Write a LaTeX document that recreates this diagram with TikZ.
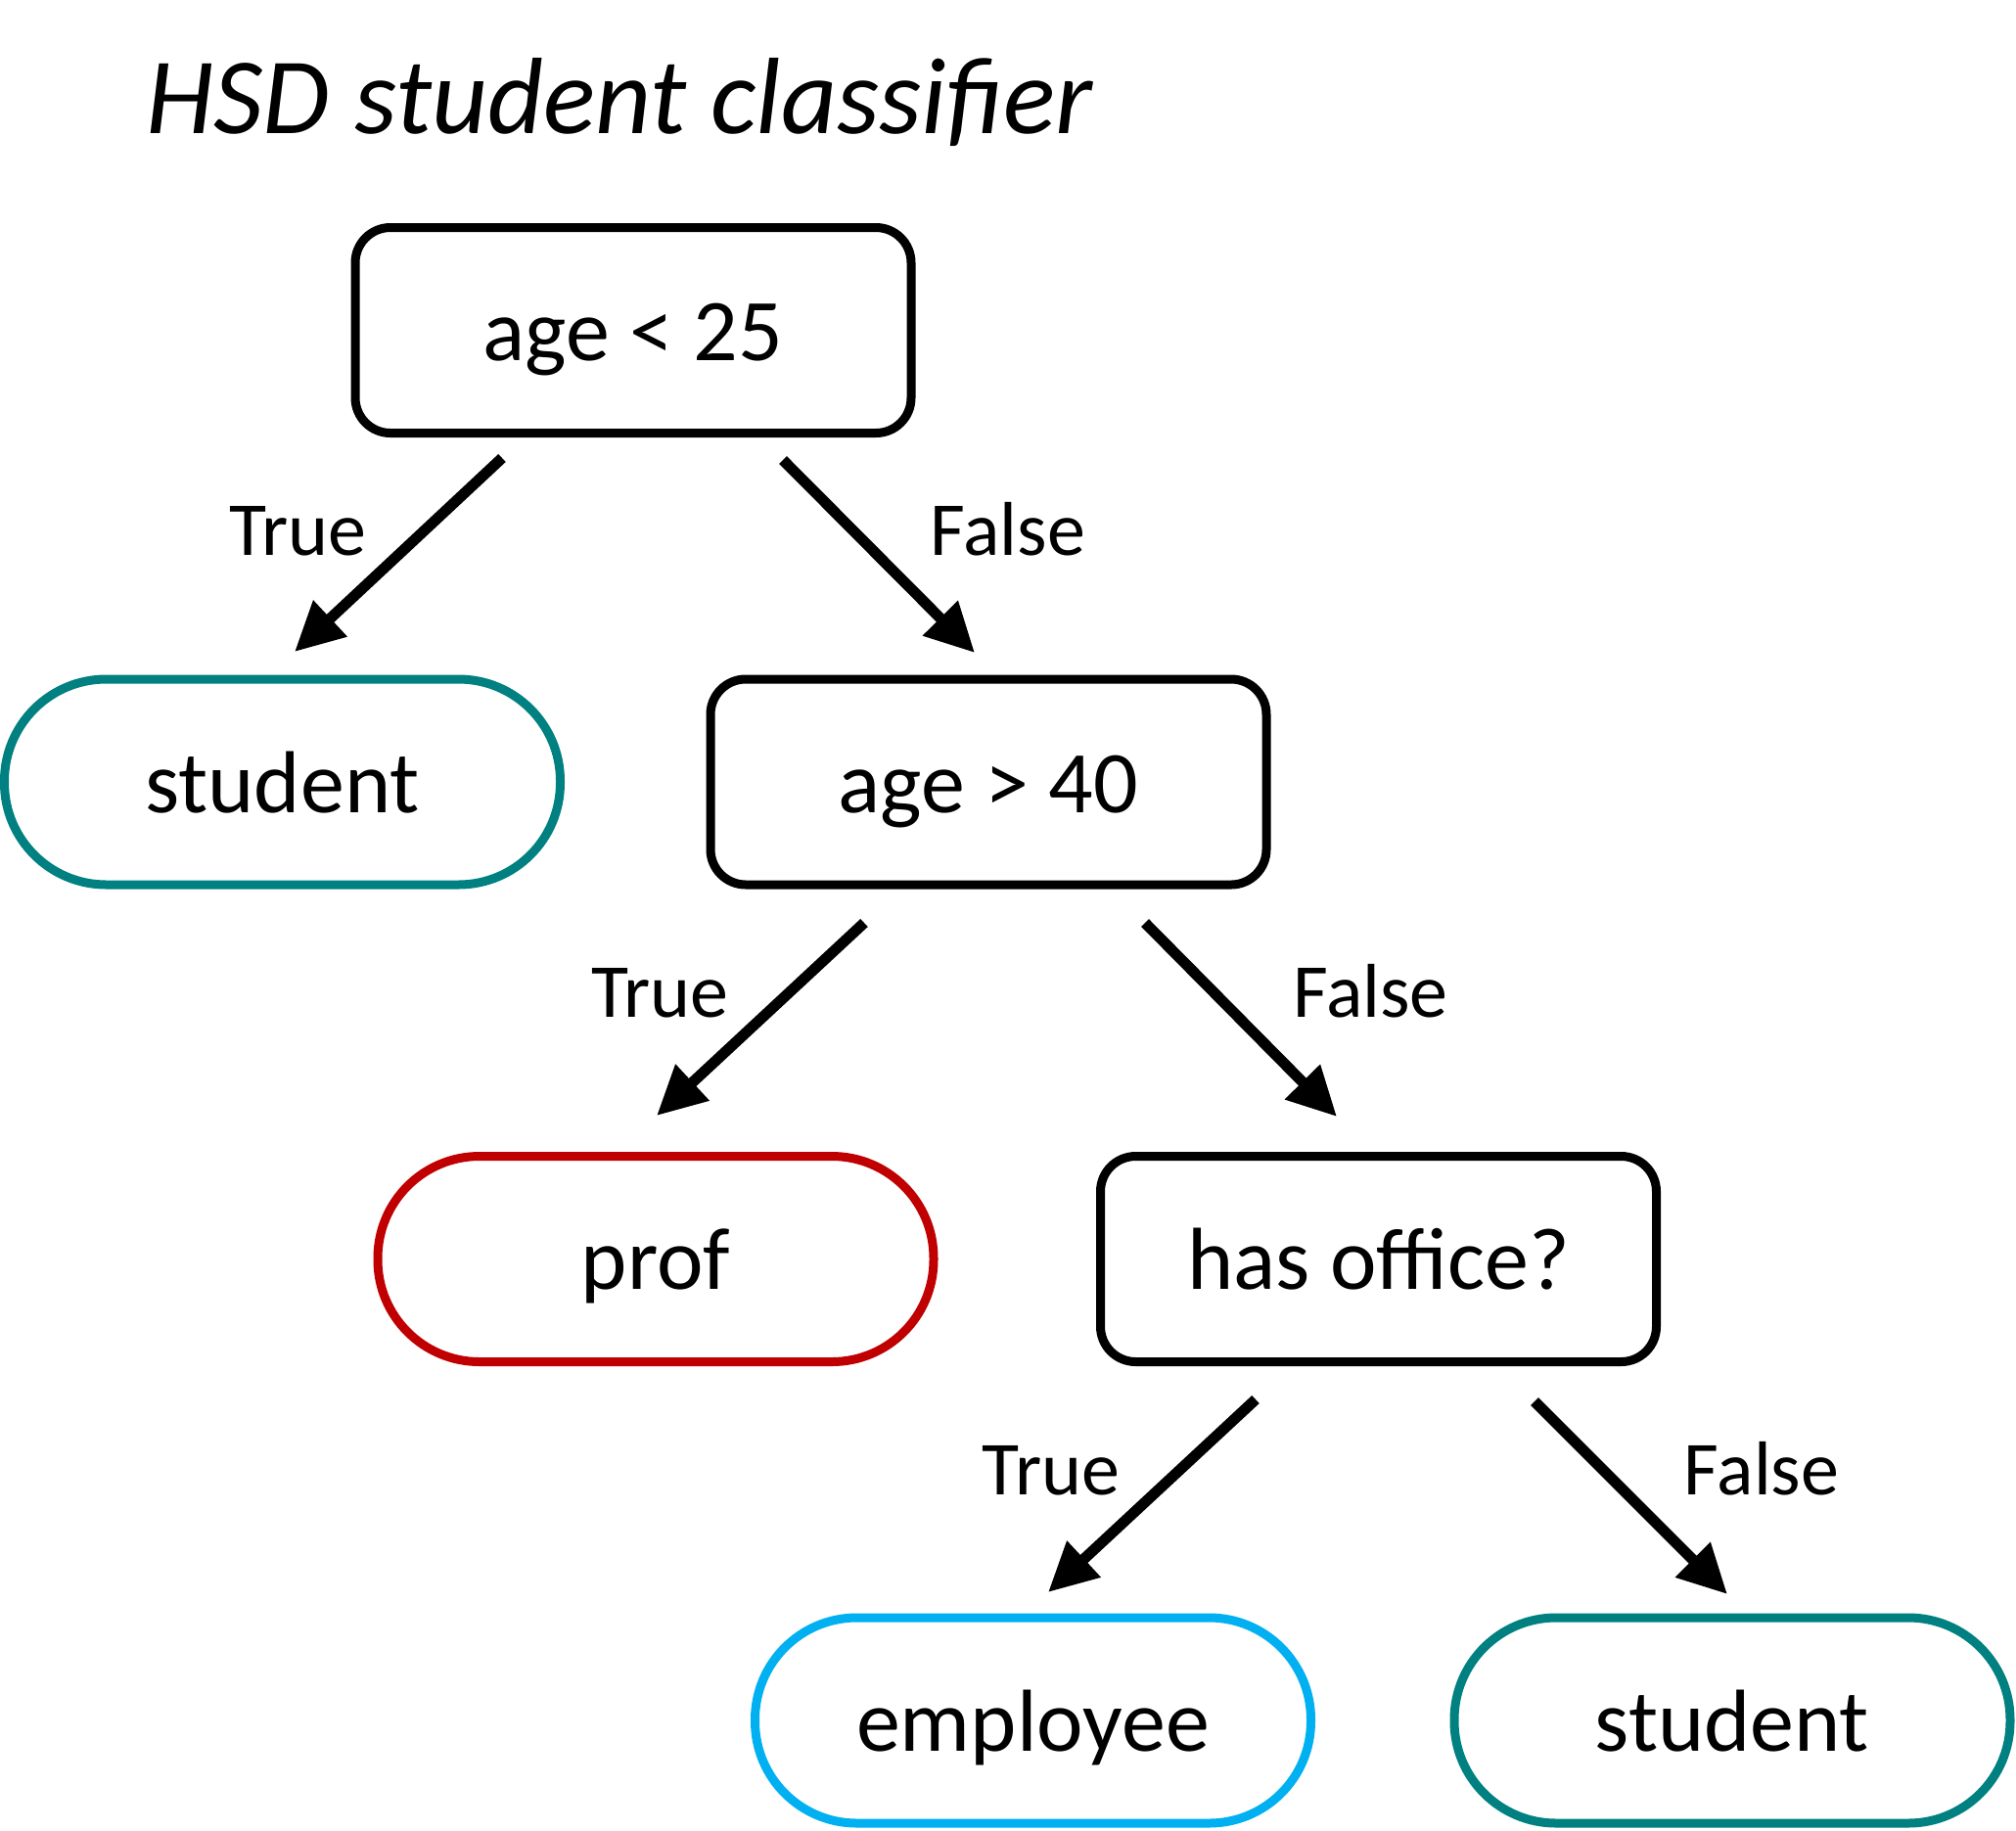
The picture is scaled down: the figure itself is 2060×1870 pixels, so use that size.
\documentclass[tikz,border=0pt]{standalone}
\usepackage{fontspec}
\setmainfont{Carlito}
\usetikzlibrary{arrows.meta,calc}
\definecolor{leafteal}{HTML}{008080}
\definecolor{leafred}{HTML}{C00000}
\definecolor{leafblue}{HTML}{00B0F0}
\newcommand\ndfont{\fontsize{45}{54}\selectfont}
\newcommand\lbfont{\fontsize{39}{47}\selectfont}
\newcommand\ttlfont{\fontsize{55.5}{66}\selectfont\itshape}
\begin{document}
\begin{tikzpicture}[x=0.5pt,y=-0.5pt,
  decision/.style={draw, line width=4.5pt, rounded corners=18pt,
    minimum width=284pt, minimum height=105pt, inner sep=0pt,
    font=\ndfont, text height=31pt, text depth=0pt},
  leaf/.style={decision, rounded corners=52pt},
  arr/.style={-{Triangle[length=25pt,width=24pt]}, line width=5.5pt},
  lbl/.style={font=\lbfont, anchor=base, inner sep=0pt}]
\useasboundingbox (0,0) rectangle (2060,1870);
\node[anchor=base west, inner sep=0pt, font=\ttlfont] (title) at (149,136) {HSD student classifier};
\node[decision] (b1) at (647,337.5) {age < 25};
\node[leaf, draw=leafteal] (s1) at (288.5,799) {student};
\node[decision] (b2) at (1010,799) {age > 40};
\node[leaf, draw=leafred] (prof) at (670,1286.5) {prof};
\node[decision] (b3) at (1408.5,1286.5) {has office?};
\node[leaf, draw=leafblue] (emp) at (1055.5,1758) {employee};
\node[leaf, draw=leafteal] (s2) at (1770,1758) {student};
\draw[arr] ($(b1)+(-134,130.5)$) -- ($(s1)+(12.5,-133)$);
\draw[arr] ($(b1)+(153,132.5)$) -- ($(b2)+(-14,-132)$);
\draw[arr] ($(b2)+(-127,144)$) -- ($(prof)+(1,-146.5)$);
\draw[arr] ($(b2)+(160,144)$) -- ($(b3)+(-42.5,-145.5)$);
\draw[arr] ($(b3)+(-125.5,143.5)$) -- ($(emp)+(15.5,-131)$);
\draw[arr] ($(b3)+(159.5,145.5)$) -- ($(s2)+(-5,-129)$);
\node[lbl] (t1) at (304.5,567) {True};
\node[lbl] (f1) at (1030,567) {False};
\node[lbl] (t2) at (674.5,1039) {True};
\node[lbl] (f2) at (1400.5,1039) {False};
\node[lbl] (t3) at (1074,1527) {True};
\node[lbl] (f3) at (1800,1527) {False};
\end{tikzpicture}
\end{document}
